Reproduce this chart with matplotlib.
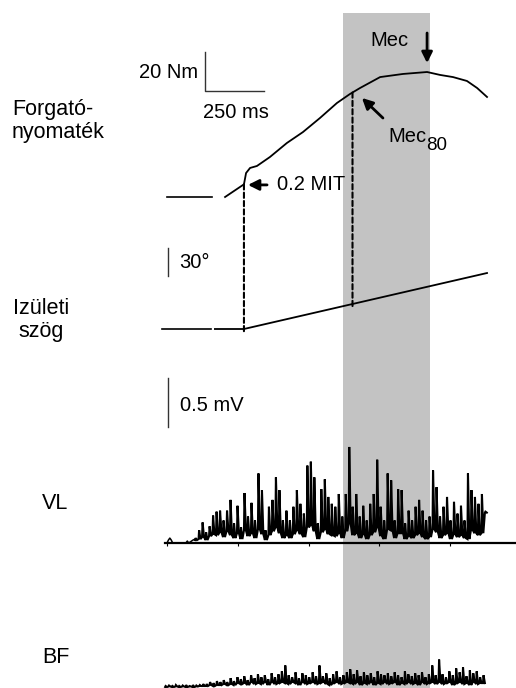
import numpy as np
import matplotlib
matplotlib.use("Agg")
import matplotlib.pyplot as plt
from matplotlib.patches import ConnectionPatch

plt.rcParams["font.family"] = ["Liberation Sans", "DejaVu Sans"]

W, H = 516, 688

# time in ms, 0 = start of the torque baseline
torque_base_t = [0, 190]
torque_base_nm = [0, 0]
torque_t = [246, 326, 335, 352, 381, 436, 508, 576, 648, 720, 775, 818,
            903, 1000, 1102, 1157, 1212, 1271, 1314, 1356]
torque_nm = [0, 6.5, 12.3, 14.9, 15.9, 20.5, 27.7, 33.3, 40.5, 48.2, 52.8, 55.9,
             61.5, 63.1, 64.1, 62.6, 61.5, 59.5, 55.9, 51.3]

angle_base_t = [-21, 186]
angle_base_deg = [0, 0]
angle_t = [203, 326, 1356]
angle_deg = [0, 0, 60]

mit_t, mec80_t, mec_t = 326, 786, 1102
band_t = (746, 1114)

# rectified EMG (mV): peak and trough of each burst
vl_pre_t = [0, 6, 12, 18, 24, 80, 86, 92, 110, 119]
vl_pre = [0, 0.03, 0.05, 0.03, 0, 0, 0.02, 0, 0.03, 0.04]
vl_span = (119, 1347)
vl_peaks = [0.05, 0.13, 0.21, 0.11, 0.17, 0.28, 0.32, 0.33, 0.23, 0.33, 0.44, 0.20,
            0.38, 0.16, 0.51, 0.27, 0.41, 0.23, 0.71, 0.54, 0.13, 0.37, 0.44, 0.67,
            0.54, 0.23, 0.33, 0.23, 0.37, 0.54, 0.40, 0.30, 0.79, 0.83, 0.67, 0.20,
            0.55, 0.65, 0.47, 0.40, 0.37, 0.50, 0.27, 0.50, 0.98, 0.37, 0.50, 0.27,
            0.38, 0.23, 0.40, 0.50, 0.85, 0.37, 0.23, 0.71, 0.64, 0.23, 0.55, 0.54,
            0.20, 0.33, 0.23, 0.37, 0.44, 0.33, 0.23, 0.27, 0.74, 0.57, 0.27, 0.37,
            0.47, 0.23, 0.42, 0.30, 0.38, 0.23, 0.71, 0.54, 0.47, 0.40, 0.50, 0.32]
vl_lows = [0.03, 0.04, 0.06, 0.03, 0.07, 0.09, 0.08, 0.11, 0.06, 0.12, 0.08, 0.05,
           0.10, 0.04, 0.13, 0.07, 0.10, 0.05, 0.14, 0.09, 0.03, 0.08, 0.12, 0.16,
           0.10, 0.05, 0.08, 0.05, 0.09, 0.13, 0.09, 0.06, 0.16, 0.18, 0.12, 0.04,
           0.11, 0.14, 0.09, 0.08, 0.07, 0.10, 0.05, 0.12, 0.20, 0.08, 0.10, 0.05,
           0.09, 0.04, 0.08, 0.11, 0.16, 0.07, 0.04, 0.14, 0.13, 0.05, 0.10, 0.10,
           0.04, 0.07, 0.05, 0.08, 0.10, 0.06, 0.04, 0.06, 0.14, 0.11, 0.05, 0.08,
           0.10, 0.04, 0.09, 0.06, 0.08, 0.05, 0.04, 0.13, 0.10, 0.08, 0.10, 0.31]

bf_span = (-8, 1339)
bf_peaks = [0.01, 0.015, 0.01, 0.02, 0.01, 0.015, 0.02, 0.01, 0.02, 0.015, 0.02, 0.03,
            0.03, 0.05, 0.04, 0.06, 0.05,
            0.07, 0.05, 0.09, 0.06, 0.10, 0.08,
            0.11, 0.07, 0.12, 0.09, 0.13, 0.10,
            0.12, 0.08, 0.14, 0.10, 0.13, 0.16, 0.22,
            0.12, 0.10, 0.15, 0.09, 0.14, 0.12, 0.10, 0.15, 0.11, 0.22,
            0.11, 0.14, 0.09, 0.13, 0.16, 0.10, 0.12, 0.15, 0.18,
            0.13, 0.17, 0.11, 0.15, 0.12, 0.14, 0.10, 0.16, 0.13, 0.12,
            0.14, 0.11, 0.15, 0.12, 0.10, 0.16, 0.13, 0.11, 0.14, 0.12, 0.15, 0.10, 0.13,
            0.22, 0.12, 0.28,
            0.13, 0.10, 0.16, 0.12, 0.19, 0.15, 0.20, 0.11, 0.17, 0.14, 0.16, 0.10, 0.12]
bf_lows = [0.0, 0.005, 0.0, 0.005, 0.0, 0.005, 0.0, 0.005, 0.0, 0.005, 0.01, 0.01,
           0.01, 0.02, 0.01, 0.02, 0.02,
           0.03, 0.02, 0.03, 0.02, 0.04, 0.03,
           0.04, 0.02, 0.05, 0.03, 0.04, 0.03,
           0.05, 0.02, 0.05, 0.03, 0.04, 0.05, 0.04,
           0.03, 0.05, 0.04, 0.02, 0.05, 0.03, 0.04, 0.05, 0.03, 0.04,
           0.05, 0.03, 0.02, 0.04, 0.05, 0.03, 0.04, 0.05, 0.04,
           0.03, 0.05, 0.02, 0.04, 0.03, 0.05, 0.02, 0.04, 0.03, 0.05,
           0.03, 0.04, 0.05, 0.02, 0.04, 0.03, 0.05, 0.03, 0.04, 0.02, 0.05, 0.03, 0.04,
           0.05, 0.03, 0.05,
           0.03, 0.04, 0.05, 0.02, 0.04, 0.05, 0.03, 0.04, 0.02, 0.05, 0.03, 0.04, 0.04]

emg_ticks = [0, 300, 600, 900, 1200]

# trace area: pixel 160..516 wide, ms range that maps onto it
X0, X1 = -29.7, 1478.8
PX0 = 160
FS = 14.5

fig = plt.figure(figsize=(W / 100, H / 100), dpi=100)


def panel(zero_px, px_per_unit):
    """Full-height transparent axes whose zero sits at pixel row zero_px."""
    ax = fig.add_axes([PX0 / W, 0, 1 - PX0 / W, 1])
    ax.set_xlim(X0, X1)
    ax.set_ylim(-(H - zero_px) / px_per_unit, zero_px / px_per_unit)
    ax.axis("off")
    return ax


def emg(ax, span, peaks, lows):
    # each burst: sharp rise at its time, decay to the trough half a step later
    n = len(peaks)
    tp = np.linspace(span[0], span[1], n)
    dt = (span[1] - span[0]) / (n - 1)
    t = np.column_stack([tp, tp + dt * 0.15, tp + dt * 0.55]).ravel()
    v = np.column_stack([lows, peaks, lows]).ravel()
    ax.plot(t, v, color="k", lw=1.5, solid_joinstyle="miter")


def label(px, py, s, **kw):
    fig.text(px / W, 1 - py / H, s, va="baseline", fontsize=15.5, **kw)


ax_t = panel(197, 1.95)   # Nm
ax_a = panel(329, 0.933)  # deg
ax_v = panel(543, 98)     # mV
ax_b = panel(687, 98)     # mV

ax_t.axvspan(*band_t, ymin=0, ymax=(H - 13) / H, color="#c3c3c3", lw=0, zorder=0)

# torque
ax_t.plot(torque_base_t, torque_base_nm, color="k", lw=1.2)
ax_t.plot(torque_t, torque_nm, color="k", lw=1.3)
ax_t.plot([161, 161, 411], [74.4, 54.4, 54.4], color="#333333", lw=1)
ax_t.text(131, 64.1, "20 Nm", ha="right", va="center", fontsize=FS)
ax_t.text(153, 43.1, "250 ms", ha="left", va="center", fontsize=FS)

arrow = dict(arrowstyle="-|>", color="k", lw=2, mutation_scale=16, shrinkA=0, shrinkB=0)
ax_t.annotate("", xy=(mec_t, 68.7), xytext=(mec_t, 84.1), arrowprops=arrow)
ax_t.text(941, 80.5, "Mec", ha="center", va="center", fontsize=FS)
ax_t.annotate("", xy=(826, 50.8), xytext=(915, 40.5), arrowprops=arrow)
ax_t.text(936, 28.2, "Mec", ha="left", va="baseline", fontsize=FS)
ax_t.text(1097, 24.1, "80", ha="left", va="baseline", fontsize=FS - 1)
ax_t.annotate("", xy=(343, 6.2), xytext=(424, 6.2), arrowprops=arrow)
ax_t.text(466, 6.2, "0.2 MIT", ha="left", va="center", fontsize=FS)

# joint angle
ax_a.plot(angle_base_t, angle_base_deg, color="k", lw=1.2)
ax_a.plot(angle_t, angle_deg, color="k", lw=1.3)
ax_a.plot([4, 4], [56.8, 86.8], color="#333333", lw=1)
ax_a.text(51, 71.8, "30°", ha="left", va="center", fontsize=FS)

for t_ev in (mit_t, mec80_t):
    nm = np.interp(t_ev, torque_t, torque_nm)
    deg = np.interp(t_ev, angle_t, angle_deg) - 3
    con = ConnectionPatch(xyA=(t_ev, nm), coordsA=ax_t.transData,
                          xyB=(t_ev, deg), coordsB=ax_a.transData,
                          color="k", lw=1.5, linestyle=(0, (2.5, 1.5)))
    fig.add_artist(con)

# EMG
ax_v.plot([-8.5, X1], [0, 0], color="k", lw=1.6)
ax_v.vlines(emg_ticks, -0.03, 0, color="k", lw=0.8)
ax_v.plot([4, 4], [1.184, 1.684], color="#333333", lw=1)
ax_v.text(55, 1.40, "0.5 mV", ha="left", va="center", fontsize=FS)
ax_v.plot(vl_pre_t, vl_pre, color="k", lw=1.1)
emg(ax_v, vl_span, vl_peaks, vl_lows)
emg(ax_b, bf_span, bf_peaks, bf_lows)

# row labels
label(12, 115, "Forgató-")
label(12, 138, "nyomaték")
label(41, 314, "Izületi", ha="center")
label(41, 337, "szög", ha="center")
label(42, 509, "VL")
label(42, 663, "BF")

fig.savefig("out.png", dpi=100)
